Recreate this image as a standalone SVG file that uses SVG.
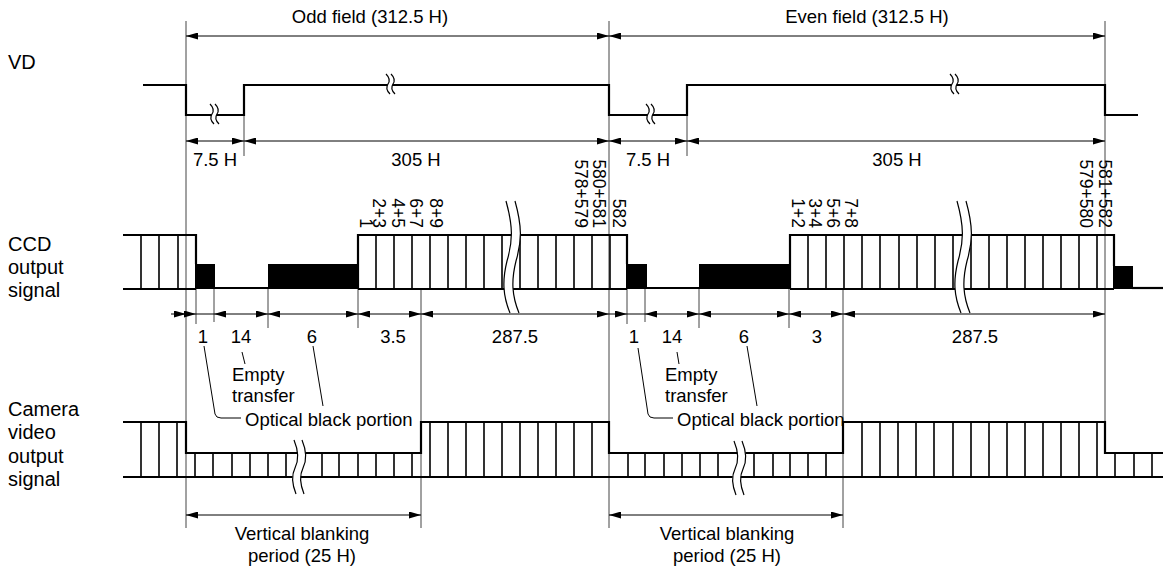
<svg xmlns="http://www.w3.org/2000/svg" xmlns:xlink="http://www.w3.org/1999/xlink" width="1163" height="572" viewBox="0 0 1163 572">
<style>
text{font-family:"Liberation Sans",Arial,sans-serif;font-size:18.5px;fill:#000}
.lbl{font-size:20px}
.rot{font-size:17.5px}
.mid{text-anchor:middle}
.sig{stroke:#000;stroke-width:2.2;fill:none}
.box{stroke:#000;stroke-width:1.6;fill:none}
.ref{stroke:#444;stroke-width:1;fill:none}
.dim{stroke:#000;stroke-width:1;fill:none}
.dd{stroke:#000;stroke-width:1;fill:none;marker-start:url(#ah);marker-end:url(#ah)}
.de{stroke:#000;stroke-width:1;fill:none;marker-end:url(#ah)}
.blk{fill:#000}
.brk{fill:#fff;stroke:none}
.brl{stroke:#000;stroke-width:1.2;fill:none}
</style>
<defs>
<marker id="ah" viewBox="0 0 12 7" refX="12" refY="3.5" markerWidth="12" markerHeight="7" markerUnits="userSpaceOnUse" orient="auto-start-reverse"><path d="M0,0 L12,3.5 L0,7 z" fill="#000"/></marker>
<g id="sbrk">
<path class="brk" d="M-5,-10 C-1,-6 -1,-3 -3,0 C-5,3 -5,6 -1,10 L4,10 C0,6 0,3 2,0 C4,-3 4,-6 0,-10 z"/>
<path class="brl" d="M-5,-10 C-1,-6 -1,-3 -3,0 C-5,3 -5,6 -1,10"/>
<path class="brl" d="M0,-10 C4,-6 4,-3 2,0 C0,3 0,6 4,10"/>
</g>
<g id="bbrk">
<path class="brk" d="M0,0 C7,25 7,40 1,60 C-4,80 -3,95 4,112 L13,112 C6,95 5,80 10,60 C16,40 16,25 9,0 z"/>
<path class="brl" d="M0,0 C7,25 7,40 1,60 C-4,80 -3,95 4,112"/>
<path class="brl" d="M9,0 C16,25 16,40 10,60 C5,80 6,95 13,112"/>
</g>
<g id="cbrk">
<path class="brk" d="M0,0 C5,12 5,20 1,28 C-3,36 -2,44 2,54 L10,54 C6,44 5,36 9,28 C13,20 13,12 8,0 z"/>
<path class="brl" d="M0,0 C5,12 5,20 1,28 C-3,36 -2,44 2,54"/>
<path class="brl" d="M8,0 C13,12 13,20 9,28 C5,36 6,44 10,54"/>
</g>
</defs>
<rect width="1163" height="572" fill="#fff"/>

<g id="reference-lines">
<line class="ref" x1="186" y1="21" x2="186" y2="528"/>
<line class="ref" x1="609" y1="21" x2="609" y2="528"/>
<line class="ref" x1="1105" y1="21" x2="1105" y2="453"/>
<line class="ref" x1="244" y1="85" x2="244" y2="156"/>
<line class="ref" x1="687" y1="85" x2="687" y2="156"/>
<line class="ref" x1="421" y1="289" x2="421" y2="528"/>
<line class="ref" x1="843" y1="289" x2="843" y2="528"/>
<line class="ref" x1="196" y1="289" x2="196" y2="324"/>
<line class="ref" x1="214" y1="289" x2="214" y2="322"/>
<line class="ref" x1="268" y1="289" x2="268" y2="328"/>
<line class="ref" x1="358" y1="289" x2="358" y2="328"/>
<line class="ref" x1="627" y1="289" x2="627" y2="324"/>
<line class="ref" x1="645" y1="289" x2="645" y2="322"/>
<line class="ref" x1="699" y1="289" x2="699" y2="328"/>
<line class="ref" x1="789" y1="289" x2="789" y2="328"/>
</g>

<g id="signal-labels">
<text class="lbl" x="8" y="69">VD</text>
<text class="lbl" x="8" y="251">CCD</text>
<text class="lbl" x="8" y="274">output</text>
<text class="lbl" x="8" y="297">signal</text>
<text class="lbl" x="8" y="416">Camera</text>
<text class="lbl" x="8" y="439">video</text>
<text class="lbl" x="8" y="463">output</text>
<text class="lbl" x="8" y="486">signal</text>
</g>

<g id="vd">
<path class="sig" d="M143,85 H186 V115 H244 V85 H609 V115 H687 V85 H1105 V115 H1138"/>
<use xlink:href="#sbrk" x="215" y="114"/>
<use xlink:href="#sbrk" x="391" y="84"/>
<use xlink:href="#sbrk" x="651" y="114"/>
<use xlink:href="#sbrk" x="955" y="84"/>
</g>

<g id="ccd">
<path class="sig" d="M123,235 H196 V264"/>
<path class="sig" d="M123,289 H196"/>
<rect class="blk" x="195" y="264" width="20" height="25"/>
<path class="sig" d="M214,288 H269"/>
<rect class="blk" x="268" y="264" width="90" height="25"/>
<path class="sig" d="M358,289 V235 H627 V264"/>
<path class="sig" d="M358,289 H627"/>
<rect class="blk" x="626" y="264" width="21" height="25"/>
<path class="sig" d="M646,288 H700"/>
<rect class="blk" x="699" y="264" width="91" height="25"/>
<path class="sig" d="M790,289 V235 H1114 V266"/>
<path class="sig" d="M790,289 H1114"/>
<rect class="blk" x="1113" y="266" width="20" height="23"/>
<path class="sig" d="M1132,288 H1163"/>
<path class="box" d="M141,235V289 M159,235V289 M178,235V289
M376,235V289 M394,235V289 M412,235V289 M430,235V289 M448,235V289 M466,235V289 M484,235V289 M502,235V289 M520,235V289 M538,235V289 M556,235V289 M574,235V289 M592,235V289 M610,235V289
M808,235V289 M826,235V289 M844,235V289 M862,235V289 M880,235V289 M899,235V289 M917,235V289 M935,235V289 M953,235V289 M971,235V289 M989,235V289 M1007,235V289 M1025,235V289 M1043,235V289 M1061,235V289 M1079,235V289 M1097,235V289"/>
<use xlink:href="#bbrk" x="506" y="201"/>
<use xlink:href="#bbrk" x="957" y="201"/>
<text class="rot" transform="translate(373,228) rotate(90)" text-anchor="end">2+3</text>
<text class="rot" transform="translate(360,228) rotate(90)" text-anchor="end">1</text>
<text class="rot" transform="translate(392,228) rotate(90)" text-anchor="end">4+5</text>
<text class="rot" transform="translate(410,228) rotate(90)" text-anchor="end">6+7</text>
<text class="rot" transform="translate(430,228) rotate(90)" text-anchor="end">8+9</text>
<text class="rot" transform="translate(575,228) rotate(90)" text-anchor="end">578+579</text>
<text class="rot" transform="translate(593,228) rotate(90)" text-anchor="end">580+581</text>
<text class="rot" transform="translate(613,228) rotate(90)" text-anchor="end">582</text>
<text class="rot" transform="translate(792,228) rotate(90)" text-anchor="end">1+2</text>
<text class="rot" transform="translate(809,228) rotate(90)" text-anchor="end">3+4</text>
<text class="rot" transform="translate(827,228) rotate(90)" text-anchor="end">5+6</text>
<text class="rot" transform="translate(845,228) rotate(90)" text-anchor="end">7+8</text>
<text class="rot" transform="translate(1080,228) rotate(90)" text-anchor="end">579+580</text>
<text class="rot" transform="translate(1099,228) rotate(90)" text-anchor="end">581+582</text>
</g>

<g id="camera">
<path class="sig" d="M123,422 H186 V453 H421 V422 H609 V453 H843 V422 H1105 V453 H1163"/>
<path class="sig" d="M123,477 H1163"/>
<path class="box" d="M141,422V477 M159,422V477 M177,422V477
M195,453V477 M213,453V477 M232,453V477 M250,453V477 M268,453V477 M286,453V477 M322,453V477 M339,453V477 M358,453V477 M376,453V477 M394,453V477 M412,453V477
M430,422V477 M448,422V477 M466,422V477 M484,422V477 M502,422V477 M520,422V477 M538,422V477 M556,422V477 M574,422V477 M592,422V477
M628,453V477 M645,453V477 M664,453V477 M682,453V477 M700,453V477 M718,453V477 M754,453V477 M773,453V477 M790,453V477 M808,453V477 M826,453V477
M862,422V477 M880,422V477 M898,422V477 M916,422V477 M934,422V477 M953,422V477 M971,422V477 M989,422V477 M1007,422V477 M1025,422V477 M1043,422V477 M1061,422V477 M1079,422V477 M1097,422V477
M1115,453V477 M1134,453V477 M1152,453V477"/>
<use xlink:href="#cbrk" x="294" y="440"/>
<use xlink:href="#cbrk" x="734" y="441"/>
</g>

<g id="dimensions">
<line class="dd" x1="186" y1="36" x2="609" y2="36"/>
<line class="dd" x1="609" y1="36" x2="1105" y2="36"/>
<text class="mid" x="370" y="23">Odd field (312.5 H)</text>
<text class="mid" x="867" y="23">Even field (312.5 H)</text>
<line class="dd" x1="186" y1="141" x2="244" y2="141"/>
<line class="dd" x1="244" y1="141" x2="609" y2="141"/>
<line class="dd" x1="609" y1="141" x2="687" y2="141"/>
<line class="dd" x1="687" y1="141" x2="1105" y2="141"/>
<text class="mid" x="215" y="166">7.5 H</text>
<text class="mid" x="416" y="166">305 H</text>
<text class="mid" x="648" y="166">7.5 H</text>
<text class="mid" x="897" y="166">305 H</text>
<line class="de" x1="171" y1="314" x2="186" y2="314"/>
<line class="de" x1="186" y1="314" x2="196" y2="314"/>
<line class="dim" x1="196" y1="314" x2="214" y2="314"/>
<line class="dd" x1="214" y1="314" x2="268" y2="314"/>
<line class="dd" x1="268" y1="314" x2="358" y2="314"/>
<line class="dd" x1="358" y1="314" x2="421" y2="314"/>
<line class="dd" x1="421" y1="314" x2="609" y2="314"/>
<line class="de" x1="609" y1="314" x2="627" y2="314"/>
<line class="dim" x1="627" y1="314" x2="645" y2="314"/>
<line class="dd" x1="645" y1="314" x2="699" y2="314"/>
<line class="dd" x1="699" y1="314" x2="789" y2="314"/>
<line class="dd" x1="789" y1="314" x2="843" y2="314"/>
<line class="dd" x1="843" y1="314" x2="1105" y2="314"/>
<text class="mid" x="203" y="343">1</text>
<text class="mid" x="241" y="343">14</text>
<text class="mid" x="312" y="343">6</text>
<text class="mid" x="393" y="343">3.5</text>
<text class="mid" x="515" y="343">287.5</text>
<text class="mid" x="634" y="343">1</text>
<text class="mid" x="672" y="343">14</text>
<text class="mid" x="744" y="343">6</text>
<text class="mid" x="817" y="343">3</text>
<text class="mid" x="975" y="343">287.5</text>
<line class="dd" x1="186" y1="515" x2="421" y2="515"/>
<line class="dd" x1="609" y1="515" x2="843" y2="515"/>
<text class="mid" x="302" y="540">Vertical blanking</text>
<text class="mid" x="302" y="562">period (25 H)</text>
<text class="mid" x="727" y="540">Vertical blanking</text>
<text class="mid" x="727" y="562">period (25 H)</text>
</g>

<g id="connectors">
<path class="dim" d="M204,346 L215,414 Q216,418 221,418 H241"/>
<line class="dim" x1="242" y1="352" x2="245" y2="364"/>
<line class="dim" x1="313" y1="346" x2="323" y2="406"/>
<path class="dim" d="M638,348 L648,414 Q649,418 654,418 H673"/>
<line class="dim" x1="677" y1="352" x2="679" y2="364"/>
<line class="dim" x1="747" y1="346" x2="757" y2="406"/>
</g>

<g id="annotations">
<text x="232" y="381">Empty</text>
<text x="232" y="402">transfer</text>
<text x="245" y="426">Optical black portion</text>
<text x="665" y="381">Empty</text>
<text x="665" y="402">transfer</text>
<text x="677" y="426">Optical black portion</text>
</g>
</svg>
